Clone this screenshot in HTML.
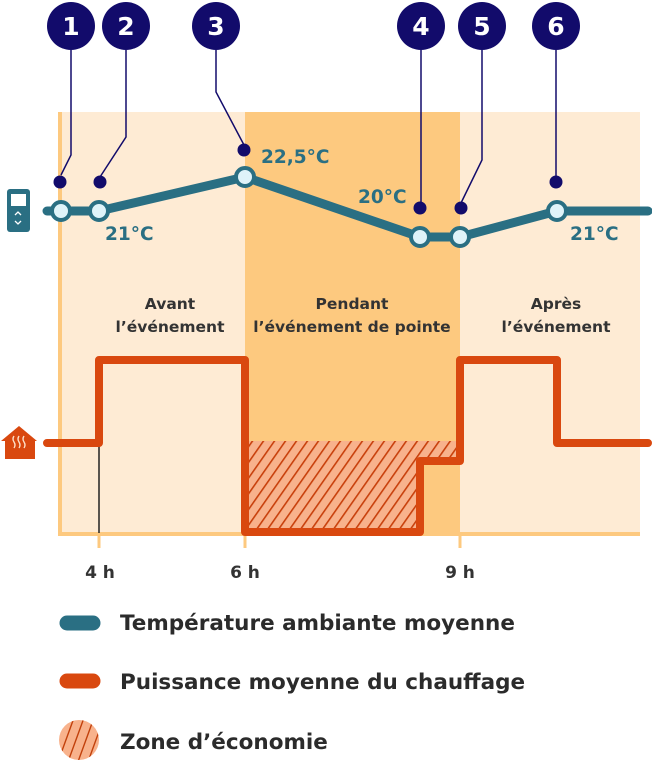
<!DOCTYPE html>
<html><head><meta charset="utf-8"><style>
html,body{margin:0;padding:0;background:#fff;}
svg{display:block;}
text{font-family:"DejaVu Sans","Liberation Sans",sans-serif;font-weight:bold;}
</style></head><body>
<svg width="652" height="763" viewBox="0 0 652 763" xmlns="http://www.w3.org/2000/svg">
<defs>
<pattern id="h" patternUnits="userSpaceOnUse" width="9" height="9" patternTransform="rotate(35)">
<rect width="9" height="9" fill="#f8b28c"/>
<line x1="0.8" y1="0" x2="0.8" y2="9" stroke="#c8400c" stroke-width="1.6"/>
</pattern>
<clipPath id="c"><circle cx="79" cy="740" r="20"/></clipPath>
</defs>
<rect x="58" y="112" width="582" height="424" fill="#feebd4"/>
<rect x="245" y="112" width="215" height="424" fill="#fdc97f"/>
<rect x="58" y="112" width="4" height="424" fill="#fdc97f"/>
<rect x="58" y="532" width="582" height="4" fill="#fdc97f"/>
<rect x="97.5" y="534" width="3" height="14" fill="#fdc97f"/>
<rect x="243.5" y="534" width="3" height="14" fill="#fdc97f"/>
<rect x="458.5" y="534" width="3" height="14" fill="#fdc97f"/>
<path d="M245 441 H458 V461 H420 V532 H245 Z" fill="url(#h)"/>
<line x1="99" y1="443" x2="99" y2="533" stroke="#222" stroke-width="1.5"/>
<path d="M47 443 H99 V360 H245 V532 H420 V461 H460 V360 H557 V443 H648" fill="none" stroke="#d9480f" stroke-width="8" stroke-linecap="round" stroke-linejoin="round"/>
<g stroke="#120b6b" stroke-width="1.5" fill="none">
<path d="M71 50 V155 L61 175"/>
<path d="M126 50 V137 L100 177"/>
<path d="M216 50 V92 L244 145"/>
<path d="M421 50 V205"/>
<path d="M482 50 V160 L461 203"/>
<path d="M556 50 V180"/>
</g>
<g fill="#120b6b">
<circle cx="60" cy="182" r="6.5"/><circle cx="100" cy="182" r="6.5"/><circle cx="244" cy="150" r="6.5"/>
<circle cx="420" cy="208" r="6.5"/><circle cx="461" cy="208" r="6.5"/><circle cx="556" cy="182" r="6.5"/>
<circle cx="71" cy="26" r="24"/><circle cx="126" cy="26" r="24"/><circle cx="216" cy="26" r="24"/>
<circle cx="421" cy="26" r="24"/><circle cx="482" cy="26" r="24"/><circle cx="556" cy="26" r="24"/>
</g>
<g fill="#fff" font-size="25" text-anchor="middle">
<text x="71" y="35">1</text><text x="126" y="35">2</text><text x="216" y="35">3</text>
<text x="421" y="35">4</text><text x="482" y="35">5</text><text x="556" y="35">6</text>
</g>
<path d="M47 211 H99 L245 177 L420 237 H460 L557 211 H648" fill="none" stroke="#2a6f83" stroke-width="9" stroke-linecap="round" stroke-linejoin="round"/>
<g fill="#dff3f9" stroke="#2a6f83" stroke-width="4">
<circle cx="61" cy="211" r="9"/><circle cx="99" cy="211" r="9"/><circle cx="245" cy="177" r="9"/>
<circle cx="420" cy="237" r="9"/><circle cx="460" cy="237" r="9"/><circle cx="557" cy="211" r="9"/>
</g>
<g fill="#2a6f83" font-size="18.5">
<text x="105" y="240">21°C</text><text x="261" y="163">22,5°C</text>
<text x="358" y="203">20°C</text><text x="570" y="240">21°C</text>
</g>
<rect x="7" y="189" width="23" height="43" rx="3" fill="#2a6f83"/>
<rect x="11" y="194" width="15" height="12" fill="#fff"/>
<path d="M15 215 l3 -3 l3 3 M15 221 l3 3 l3 -3" stroke="#fff" stroke-width="1.3" fill="none"/>
<path d="M1 441 L19 426 L37 441 H35 V459 H5 V441 Z" fill="#d9480f"/>
<path d="M14 436 q-2 3 0 6 q2 3 0 6 M19 436 q-2 3 0 6 q2 3 0 6 M24 436 q-2 3 0 6 q2 3 0 6" stroke="#fde0c8" stroke-width="1.4" fill="none"/>
<g fill="#333" font-size="15.5" text-anchor="middle">
<text x="170" y="309">Avant</text><text x="170" y="332">l’événement</text>
<text x="352" y="309">Pendant</text><text x="352" y="332">l’événement de pointe</text>
<text x="556" y="309">Après</text><text x="556" y="332">l’événement</text>
</g>
<g fill="#333" font-size="17" text-anchor="middle">
<text x="100" y="578">4 h</text><text x="245" y="578">6 h</text><text x="460" y="578">9 h</text>
</g>
<line x1="67" y1="623" x2="93" y2="623" stroke="#2a6f83" stroke-width="15" stroke-linecap="round"/>
<line x1="67" y1="681" x2="93" y2="681" stroke="#d9480f" stroke-width="15" stroke-linecap="round"/>
<g clip-path="url(#c)"><rect x="55" y="715" width="50" height="50" fill="#f8b28c"/>
<g stroke="#c2410c" stroke-width="1.4"><line x1="55" y1="770" x2="75" y2="715"/><line x1="65" y1="770" x2="85" y2="715"/><line x1="75" y1="770" x2="95" y2="715"/><line x1="85" y1="770" x2="105" y2="715"/><line x1="45" y1="770" x2="65" y2="715"/></g></g>
<g fill="#2b2b2b" font-size="21.5">
<text x="120" y="630">Température ambiante moyenne</text>
<text x="120" y="689">Puissance moyenne du chauffage</text>
<text x="120" y="749">Zone d’économie</text>
</g>
</svg>
</body></html>
